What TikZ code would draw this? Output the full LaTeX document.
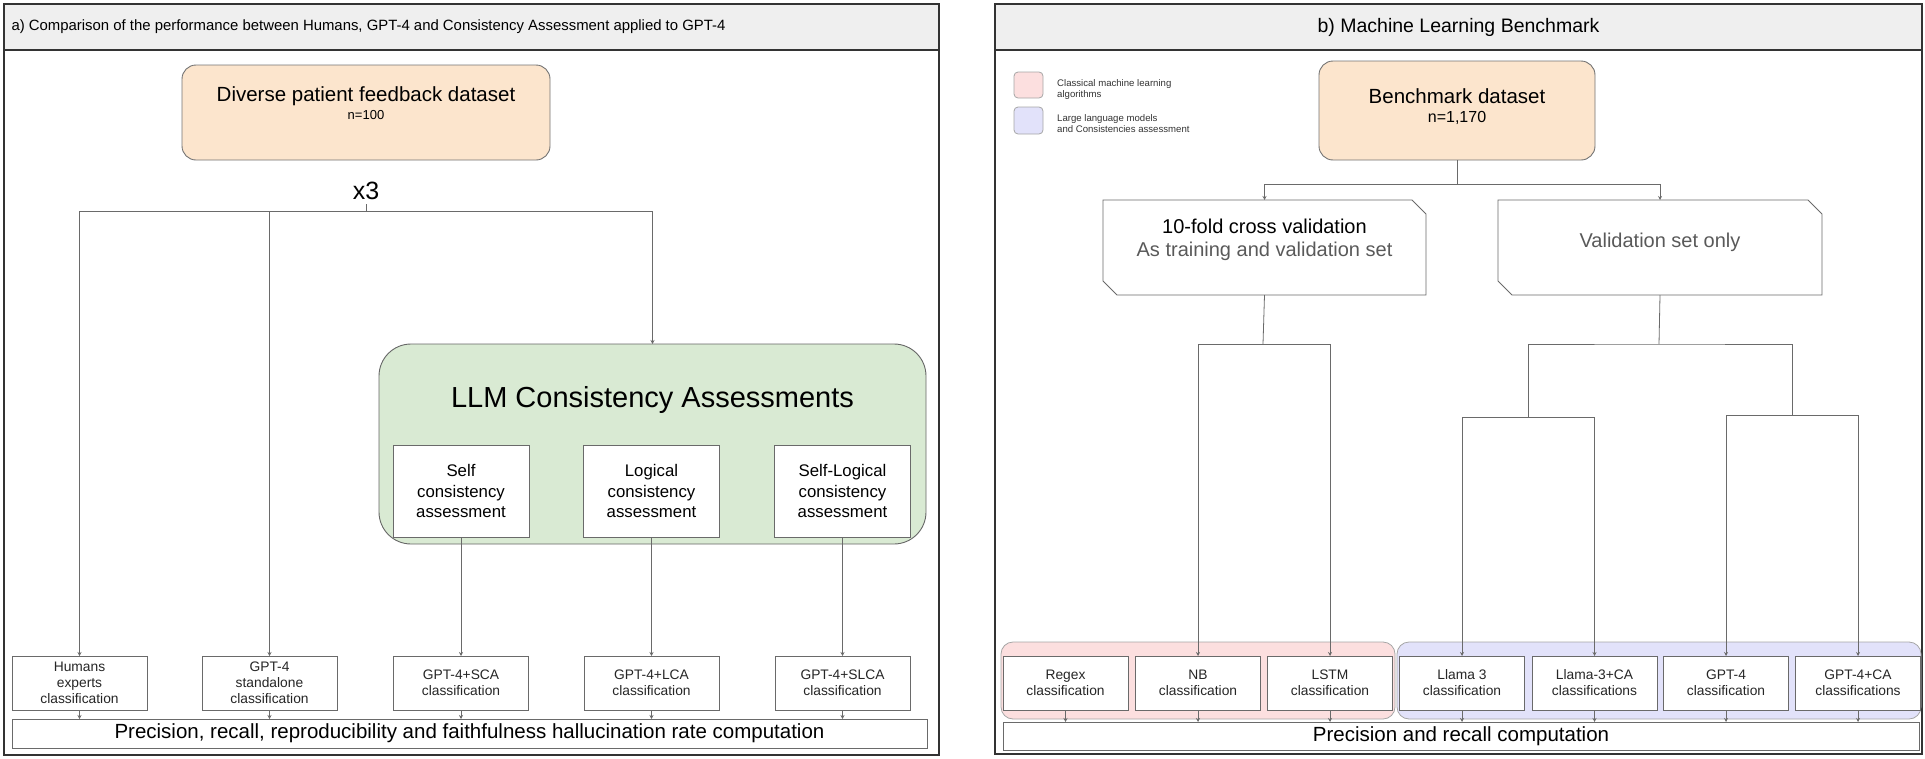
\documentclass[tikz,border=0pt]{standalone}
\usepackage{fontspec}
\setmainfont{Liberation Sans}
\usetikzlibrary{arrows.meta}

\definecolor{peach}{HTML}{FCE5CD}
\definecolor{sage}{HTML}{D9EAD3}
\definecolor{blush}{HTML}{FCDFDF}
\definecolor{lilac}{HTML}{E2E2FA}
\definecolor{headgray}{HTML}{EFEFEF}
\definecolor{edge}{HTML}{6A6A6A}

\newcommand\fsz[2]{\fontsize{#1}{#2}\selectfont}
% box with the top right and bottom left corners cut off
\newcommand\cutbox[1]{\draw[draw=edge, line width=0.8pt] (#1.north west) -- ([xshift=-14pt]#1.north east) -- ([yshift=-14pt]#1.north east) -- (#1.south east) -- ([xshift=14pt]#1.south west) -- ([yshift=14pt]#1.south west) -- cycle;}

\begin{document}
\begin{tikzpicture}[x=1pt, y=-1pt,
    panel/.style = {draw=black!80, line width=1.6pt},
    dataset/.style = {draw=black!55, fill=peach, rounded corners=14pt, line width=0.9pt, inner sep=0pt, outer sep=0pt},
    box/.style = {draw=edge, fill=white, line width=0.8pt, inner sep=0pt, outer sep=0pt, align=center, text=black!85, font=\fsz{13.8}{16}},
    low/.style = {box, minimum width=135pt, minimum height=54pt},
    leaf/.style = {box, minimum width=125pt, minimum height=54pt},
    inbox/.style = {box, minimum width=136pt, minimum height=92pt, text=black, font=\fsz{16.8}{20.5}},
    group/.style = {draw=black!35, line width=0.8pt, rounded corners=12pt, inner sep=0pt, outer sep=0pt},
    conn/.style = {draw=edge, line width=0.8pt},
    arr/.style = {conn, -{Stealth[length=4pt, width=4pt]}}
]
\useasboundingbox (0,0) rectangle (1925,758);

% ---- a) humans vs GPT-4 vs consistency assessment
\draw[panel, fill=headgray] (4,4) rectangle (939,50);
\draw[panel] (4,4) rectangle (939,755);
\node[anchor=west, font=\fsz{14.9}{18}] (titleA) at (8,27) {a) Comparison of the performance between Humans, GPT-4 and Consistency Assessment applied to GPT-4};

\node[dataset, minimum width=368pt, minimum height=95pt] (dsA) at (366,112.5) {};
\node[font=\fsz{20.5}{22}] (dsAname) at (366,96) {Diverse patient feedback dataset};
\node[font=\fsz{13}{15}] (dsAsize) at (366,115.5) {n=100};
\node[font=\fsz{25}{25}, minimum height=26pt, inner sep=0pt, outer sep=0pt] (times) at (366,191) {x3};

\node[draw=black!60, fill=sage, line width=0.9pt, rounded corners=32pt, minimum width=547pt, minimum height=200pt, outer sep=0pt] (llmca) at (652.5,444) {};
\node[font=\fsz{29}{31}] (llmtitle) at (652.5,400) {LLM Consistency Assessments};
\node[inbox] (selfca) at (461,491) {Self\\consistency\\assessment};
\node[inbox] (logca) at (651.5,491) {Logical\\consistency\\assessment};
\node[inbox] (slogca) at (842.5,491) {Self-Logical\\consistency\\assessment};

\node[low] (human) at (79.5,683) {Humans\\experts\\classification};
\node[low] (gptsolo) at (269.5,683) {GPT-4\\standalone\\classification};
\node[low] (sca) at (461,683) {GPT-4+SCA\\classification};
\node[low] (lca) at (651.5,683) {GPT-4+LCA\\classification};
\node[low] (slca) at (842.5,683) {GPT-4+SLCA\\classification};
\node[box, minimum width=915pt, minimum height=29pt, text=black, font=\fsz{20.5}{22}] (evalA) at (469.5,733.5) {Precision, recall, reproducibility and faithfulness hallucination rate computation};

\coordinate (forkA) at (366,211);
\draw[conn] (times.south) -- (forkA);
\draw[arr] (forkA) -| (human.north);
\draw[arr] (forkA) -| (llmca.north);
\draw[arr] (gptsolo.north |- forkA) -- (gptsolo.north);
\draw[arr] (selfca.south) -- (sca.north);
\draw[arr] (logca.south) -- (lca.north);
\draw[arr] (slogca.south) -- (slca.north);
\foreach \n in {human, gptsolo, sca, lca, slca}
    \draw[arr] (\n.south) -- (\n.south |- evalA.north);

% ---- b) machine learning benchmark
\draw[panel, fill=headgray] (995,4) rectangle (1922,50);
\draw[panel] (995,4) rectangle (1922,754);
\node[font=\fsz{19.5}{22}] (titleB) at (1458.5,27) {b) Machine Learning Benchmark};

\node[group, fill=blush, rounded corners=4pt, minimum width=29pt, minimum height=26pt] (legclassic) at (1028.5,85) {};
\node[group, fill=lilac, rounded corners=4pt, minimum width=29pt, minimum height=27pt] (legllm) at (1028.5,120.5) {};
\node[anchor=west, align=left, inner sep=0pt, font=\fsz{9.6}{11}, text=black!80] (legclassictxt) at (1057,89.5) {Classical machine learning\\algorithms};
\node[anchor=west, align=left, inner sep=0pt, font=\fsz{9.6}{11}, text=black!80] (legllmtxt) at (1057,123.5) {Large language models\\and Consistencies assessment};

\node[dataset, minimum width=276pt, minimum height=99pt] (bench) at (1457,110.5) {};
\node[font=\fsz{20.5}{22}] (benchname) at (1457,96) {Benchmark dataset};
\node[font=\fsz{16}{18}] (benchsize) at (1457,118) {n=1,170};

\node[minimum width=323pt, minimum height=95pt, inner sep=0pt, outer sep=0pt] (tenfold) at (1264.5,247.5) {};
\cutbox{tenfold}
\node[align=center, font=\fsz{20}{23}] (tenfoldtxt) at (1264.5,240) {10-fold cross validation\\\textcolor{black!65}{As training and validation set}};
\node[minimum width=324pt, minimum height=95pt, inner sep=0pt, outer sep=0pt] (valonly) at (1660,247.5) {};
\cutbox{valonly}
\node[font=\fsz{20}{23}, text=black!65] (valonlytxt) at (1660,242) {Validation set only};

\node[group, fill=blush, minimum width=394pt, minimum height=77pt] (grpclassic) at (1198,680.5) {};
\node[group, fill=lilac, minimum width=524pt, minimum height=77pt] (grpllm) at (1659,680.5) {};

\node[leaf] (regex) at (1065.5,683) {Regex\\classification};
\node[leaf] (nb) at (1198,683) {NB\\classification};
\node[leaf] (lstm) at (1330,683) {LSTM\\classification};
\node[leaf] (llama) at (1462,683) {Llama 3\\classification};
\node[leaf] (llamaca) at (1594.5,683) {Llama-3+CA\\classifications};
\node[leaf] (gpt) at (1726,683) {GPT-4\\classification};
\node[leaf] (gptca) at (1858,683) {GPT-4+CA\\classifications};
\node[box, minimum width=916pt, minimum height=28pt, text=black, font=\fsz{20.5}{22}] (evalB) at (1461,736) {Precision and recall computation};

\coordinate (forkB) at (1457,184);
\coordinate (forkC) at (1263,344);
\coordinate (forkD) at (1659,344);
\coordinate (forkE) at (1528,417);
\coordinate (forkF) at (1792,415);
\draw[conn] (bench.south) -- (forkB);
\draw[arr] (forkB) -| (tenfold.north);
\draw[arr] (forkB) -| (valonly.north);
\draw[conn] (tenfold.south) -- (forkC);
\draw[arr] (forkC) -| (nb.north);
\draw[arr] (forkC) -| (lstm.north);
\draw[conn] (valonly.south) -- (forkD);
\draw[conn] (forkE) |- (forkD) -| (forkF);
\draw[arr] (forkE) -| (llama.north);
\draw[arr] (forkE) -| (llamaca.north);
\draw[arr] (forkF) -| (gpt.north);
\draw[arr] (forkF) -| (gptca.north);
\foreach \n in {regex, nb, lstm, llama, llamaca, gpt, gptca}
    \draw[arr] (\n.south) -- (\n.south |- evalB.north);
\end{tikzpicture}
\end{document}
